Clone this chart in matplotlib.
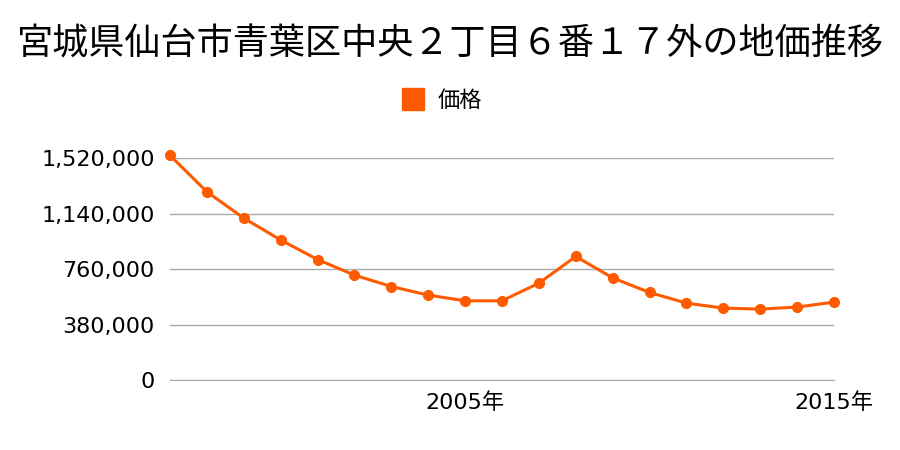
import matplotlib
matplotlib.use("Agg")
import matplotlib.pyplot as plt
from matplotlib.ticker import FuncFormatter

plt.rcParams['font.family'] = ['DejaVu Sans', 'Noto Sans CJK JP']

# land price per year (yen / m2)
years = [1997, 1998, 1999, 2000, 2001, 2002, 2003, 2004, 2005, 2006,
         2007, 2008, 2009, 2010, 2011, 2012, 2013, 2014, 2015]
prices = [1540000, 1290000, 1110000, 960000, 826000, 719000, 641000, 582000,
          543000, 543000, 664000, 847000, 700000, 600000, 527000, 493000,
          486000, 500000, 534000]
yticks = [0, 380000, 760000, 1140000, 1520000]
xticks = [2005, 2015]
title = "宮城県仙台市青葉区中央２丁目６番１７外の地価推移"
series_name = "価格"

color = "#ff5a00"

fig = plt.figure(figsize=(9, 4.5), dpi=100)
ax = fig.add_axes([170 / 900, 1 - 380 / 450, (834 - 170) / 900, (380 - 158.3) / 450])

ax.plot(years, prices, "-o", color=color, linewidth=2.2, markersize=7,
        clip_on=False, zorder=3, label=series_name)

ax.set_xlim(years[0], years[-1])
ax.set_ylim(0, 1520000)
ax.set_yticks(yticks)
ax.yaxis.set_major_formatter(FuncFormatter(lambda v, p: f"{int(v):,}"))
ax.set_xticks(xticks)
ax.set_xticklabels([f"{y}年" for y in xticks])

ax.grid(axis="y", color="#aaaaaa", linewidth=1)
for s in ax.spines.values():
    s.set_visible(False)
# the zero line: keep it as visible as the other grid lines
ax.spines["bottom"].set_visible(True)
ax.spines["bottom"].set_color("#aaaaaa")
ax.tick_params(length=0, labelsize=16)
ax.tick_params(axis="y", pad=11)
ax.tick_params(axis="x", pad=9)

fig.text(0.5, 1 - 45 / 450, title, ha="center", va="center", fontsize=26,
         family=['Noto Sans CJK JP', 'DejaVu Sans'])

ax.legend(handles=[plt.Line2D([], [], marker="s", linestyle="none", color=color,
                              markersize=16.5)],
          labels=[series_name], loc="center", bbox_to_anchor=(436 / 900, 1 - 100 / 450),
          bbox_transform=fig.transFigure, frameon=False,
          prop={'family': ['Noto Sans CJK JP'], 'size': 16},
          handletextpad=0.1)

fig.savefig("out.png", dpi=100)
